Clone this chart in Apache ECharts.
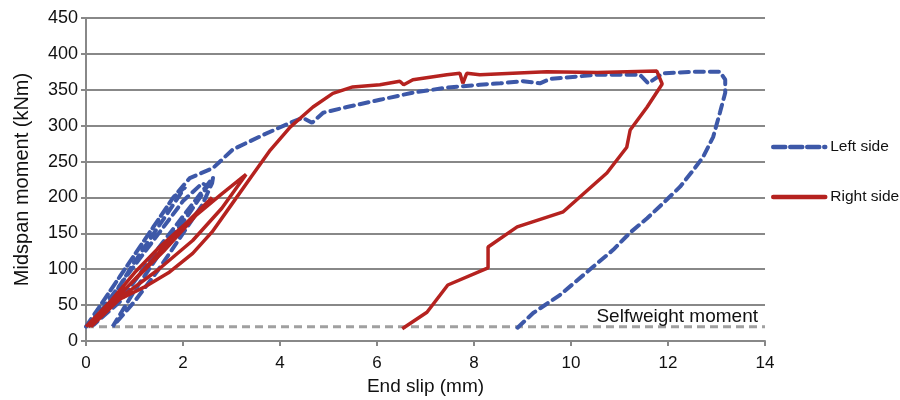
<!DOCTYPE html>
<html>
<head>
<meta charset="utf-8">
<script src="https://cdn.jsdelivr.net/npm/echarts@6/dist/echarts.min.js"></script>
<style>
  html, body { margin: 0; padding: 0; background: #fff; }
  #chart { width: 900px; height: 400px; }
</style>
</head>
<body>
<div id="chart"></div>
<script>
// end slip (mm) / midspan moment (kNm)
const leftSlip = [
  0, 0.3, 0.8, 1.3, 1.8, 2.05, 1.7, 1.0, 0.4, 0.1,
  0.5, 1.0, 1.5, 2.0, 2.4, 2.5, 2.1, 1.5, 1.0, 0.55,
  1.0, 1.5, 2.0, 2.4, 2.6, 2.62, 2.3, 1.5, 0.7, 0.15,
  0.2, 0.6, 1.2, 1.8, 2.14, 2.62, 3.03, 3.65, 4.21, 4.47, 4.66, 4.89,
  5.38, 6.06, 6.74, 7.44, 8.12, 8.54, 9.01, 9.36, 9.57, 10.54, 10.87, 11.42,
  11.59, 11.9, 12.5, 13.07, 13.18, 13.18, 13.07, 12.93, 12.72, 12.52, 12.25,
  11.9, 11.57, 11.22, 10.87, 10.45, 9.77, 9.22, 8.89
];
const leftMoment = [
  20, 50, 100, 150, 200, 215, 180, 110, 45, 20,
  60, 105, 150, 195, 220, 215, 175, 120, 70, 20,
  55, 100, 150, 190, 220, 228, 200, 130, 55, 22,
  40, 80, 140, 200, 227, 241, 267, 287, 304, 311, 304, 318,
  326, 336, 346, 353, 357, 359, 362, 359, 365, 371, 371, 371,
  359, 373, 375, 375, 364, 346, 318, 284, 256, 238, 215,
  192, 171, 151, 127, 103, 64, 39, 18
];

const rightSlip = [
  0, 0.5, 1.0, 1.5, 2.0, 2.6, 2.2, 1.6, 1.0, 0.4, 0.05,
  0.5, 1.2, 2.0, 2.8, 3.3, 2.8, 2.2, 1.5, 0.8, 0.1,
  0.6, 1.2, 1.7, 2.2, 2.6, 3.0, 3.4, 3.8, 4.21, 4.41, 4.68, 5.09, 5.5, 6.06,
  6.47, 6.55, 6.74, 7.44, 7.71, 7.77, 7.85, 8.12, 8.8, 9.5, 10.54, 11.77,
  11.88, 11.57, 11.22, 11.15, 10.74, 9.84, 8.89, 8.29, 8.29, 7.46, 7.03, 6.52
];
const rightMoment = [
  20, 55, 95, 130, 160, 200, 170, 125, 85, 45, 20,
  50, 100, 160, 205, 232, 185, 140, 100, 65, 20,
  55, 75, 95, 122, 152, 190, 228, 266, 298, 310, 326, 345, 354, 357,
  362, 357, 364, 371, 373, 359, 373, 371, 373, 375, 374, 376,
  358, 326, 294, 270, 234, 180, 159, 131, 102, 78, 40, 17
];

const selfSlip = [0, 14];
const selfMoment = [20, 20];

const xTicks = [0, 14, 2];
const yTicks = [0, 450, 50];

function pairs(xs, ys) {
  return xs.map((x, i) => [x, ys[i]]);
}

const font = 'Liberation Sans, Arial, sans-serif';
const blue = '#3d58a8';
const red = '#b5221f';
let chart = echarts.init(document.getElementById('chart'));

let option = {
  animation: false,
  textStyle: { fontFamily: font },
  grid: { left: 86, right: 135, top: 18, bottom: 59, outerBoundsMode: 'none' },
  legend: {
    orient: 'vertical',
    left: 771,
    top: 139,
    padding: 0,
    itemWidth: 52,
    itemHeight: 14,
    itemGap: 34,
    itemStyle: { opacity: 0 },
    textStyle: { fontSize: 15.5, color: '#111', fontFamily: font },
    data: [
      { name: 'Left side', lineStyle: { color: blue, width: 4.5, type: [12, 5], cap: 'round' } },
      { name: 'Right side', lineStyle: { color: red, width: 4.5, cap: 'round' } }
    ]
  },
  xAxis: {
    type: 'value',
    min: xTicks[0],
    max: xTicks[1],
    interval: xTicks[2],
    name: 'End slip (mm)',
    nameLocation: 'middle',
    nameGap: 35,
    nameTextStyle: { fontSize: 19, color: '#111' },
    axisLine: { lineStyle: { color: '#888', width: 2 } },
    axisTick: { show: true, length: 5, lineStyle: { color: '#888', width: 2 } },
    axisLabel: { fontSize: 17, color: '#111', margin: 14 },
    splitLine: { show: false }
  },
  yAxis: {
    type: 'value',
    min: yTicks[0],
    max: yTicks[1],
    interval: yTicks[2],
    name: 'Midspan moment (kNm)',
    nameLocation: 'middle',
    nameGap: 54,
    nameTextStyle: { fontSize: 20, color: '#111' },
    axisLine: { show: true, lineStyle: { color: '#888', width: 2 } },
    axisTick: { show: true, length: 5, lineStyle: { color: '#888', width: 2 } },
    axisLabel: { fontSize: 18, color: '#111', margin: 8 },
    splitLine: { show: true, lineStyle: { color: '#888', width: 2 } }
  },
  series: [
    {
      name: 'Selfweight moment',
      type: 'line',
      data: pairs(selfSlip, selfMoment),
      symbol: 'none',
      lineStyle: { color: '#a0a0a0', width: 3, type: [8, 5] },
      endLabel: {
        show: true,
        formatter: 'Selfweight moment',
        align: 'right',
        offset: [-15, -10],
        fontSize: 19,
        color: '#111',
        fontFamily: font
      },
      z: 1
    },
    {
      name: 'Left side',
      type: 'line',
      data: pairs(leftSlip, leftMoment),
      symbol: 'none',
      color: blue,
      lineStyle: { color: blue, width: 4, type: [9, 6], cap: 'round' },
      z: 2
    },
    {
      name: 'Right side',
      type: 'line',
      data: pairs(rightSlip, rightMoment),
      symbol: 'none',
      color: red,
      lineStyle: { color: red, width: 3.5 },
      z: 3
    }
  ]
};

chart.setOption(option);
</script>
</body>
</html>
